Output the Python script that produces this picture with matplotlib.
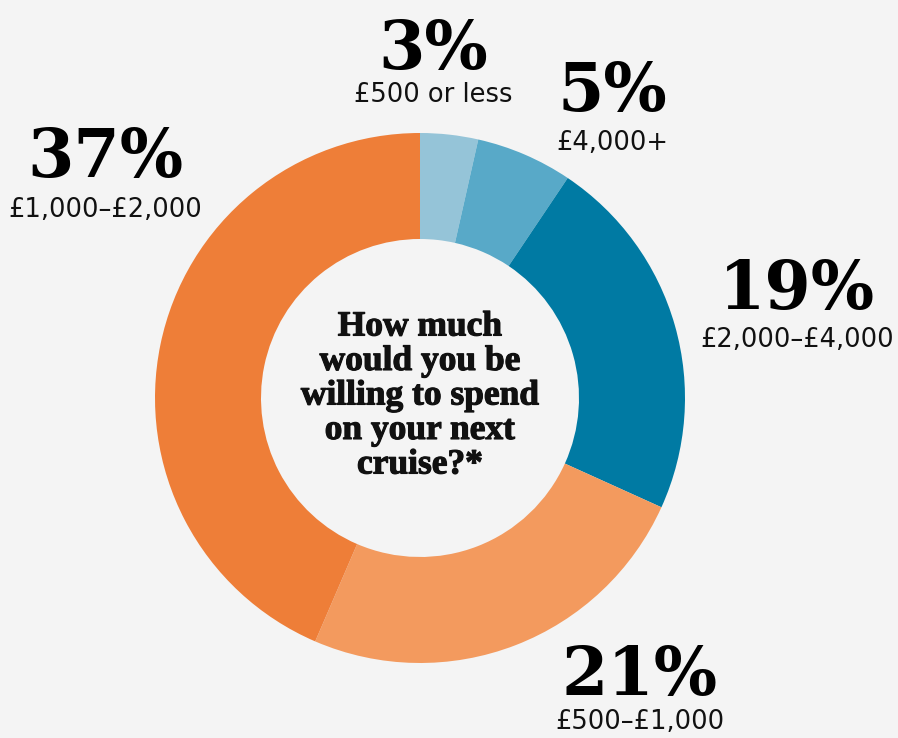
import matplotlib
matplotlib.use("Agg")
import matplotlib.pyplot as plt
import matplotlib.patheffects as pe

# Survey answers: share of respondents per budget band
bands = ["£500 or less", "£4,000+", "£2,000–£4,000", "£500–£1,000", "£1,000–£2,000"]
shares = [3, 5, 19, 21, 37]
colors = ["#95c4d8", "#58a9c8", "#007aa3", "#f39a5e", "#ee7e38"]

question = "How much\nwould you be\nwilling to spend\non your next\ncruise?*"

W, H = 898, 738
BG = "#f4f4f4"

fig = plt.figure(figsize=(W / 100, H / 100), dpi=100, facecolor=BG)
ax = fig.add_axes([0, 0, 1, 1])
ax.set_facecolor(BG)

cx, cy, R = 420, H - 398, 265
ax.pie(shares, colors=colors, startangle=90, counterclock=False,
       center=(cx, cy), radius=R, frame=True,
       wedgeprops=dict(width=R * 0.40, linewidth=0))
ax.set_xlim(0, W)
ax.set_ylim(0, H)
ax.set_aspect("equal")
ax.axis("off")

num_font = dict(family="DejaVu Serif", weight="bold", color="#000000")
lab_font = dict(family="DejaVu Sans", color="#111111")

# (number x, number y, label y) in pixel coordinates from the top
placements = [
    (433, 50, 95),
    (612, 92, 143),
    (797, 290, 340),
    (640, 676, 722),
    (105, 158, 210),
]

for share, band, (x, ny, ly) in zip(shares, bands, placements):
    ax.text(x, H - ny, f"{share}%", ha="center", va="center",
            fontsize=48, **num_font)
    ax.text(x, H - ly, band, ha="center", va="center",
            fontsize=18.5, **lab_font)

ax.text(cx, cy + 2, question, ha="center", va="center", fontsize=25.5,
        family="Liberation Serif", weight="bold", color="#111111",
        linespacing=1.06,
        path_effects=[pe.withStroke(linewidth=0.8, foreground="#111111")])

fig.savefig("out.png", dpi=100, facecolor=BG)
